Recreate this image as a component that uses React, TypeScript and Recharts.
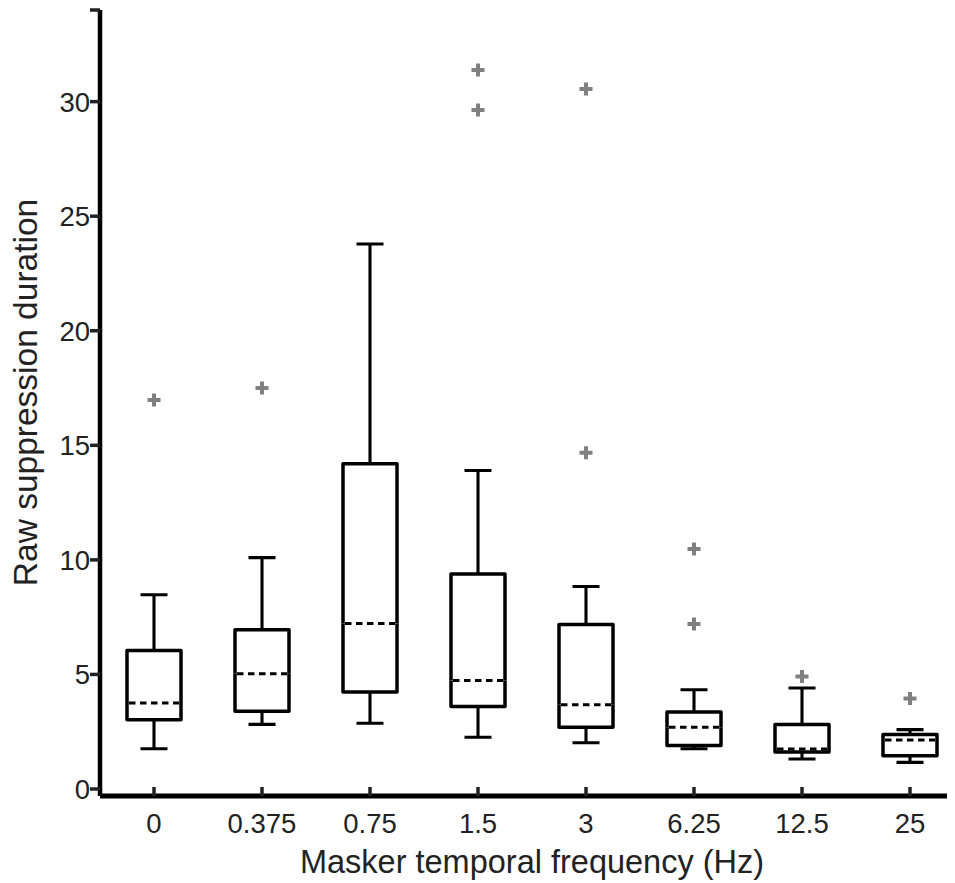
import { ComposedChart, Bar, Line, XAxis, YAxis, Label } from "recharts";

const categories = ["0", "0.375", "0.75", "1.5", "3", "6.25", "12.5", "25"];
const mins = [1.76, 2.82, 2.87, 2.26, 2.02, 1.76, 1.31, 1.16];
const q1s = [3.02, 3.39, 4.23, 3.6, 2.7, 1.9, 1.61, 1.45];
const medians = [3.75, 5.03, 7.22, 4.74, 3.68, 2.7, 1.75, 2.14];
const q3s = [6.05, 6.95, 14.2, 9.38, 7.18, 3.36, 2.81, 2.38];
const maxes = [8.48, 10.1, 23.79, 13.9, 8.84, 4.33, 4.41, 2.59];
const outliersHigh = [16.98, 17.5, null, 31.38, 30.55, 10.47, 4.91, 3.95];
const outliersLow = [null, null, null, 29.64, 14.68, 7.2, null, null];
const yTicks = [0, 5, 10, 15, 20, 25, 30, 34];

const data = categories.map((cat, i) => ({
  cat,
  base: mins[i],
  lowWhisker: q1s[i] - mins[i],
  lowBox: medians[i] - q1s[i],
  highBox: q3s[i] - medians[i],
  highWhisker: maxes[i] - q3s[i],
  outA: outliersHigh[i],
  outB: outliersLow[i],
}));

const FONT = '"Liberation Sans", Arial, Helvetica, sans-serif';
const INK = "#000";

const LowWhisker = (p: any) => {
  const { x, y, width, height } = p;
  const cx = x + width / 2;
  return (
    <path
      d={`M${cx},${y}V${y + height}M${x + width / 4},${y + height}H${x + (3 * width) / 4}`}
      stroke={INK}
      strokeWidth={3.1}
      fill="none"
    />
  );
};

const HighWhisker = (p: any) => {
  const { x, y, width, height } = p;
  const cx = x + width / 2;
  return (
    <path
      d={`M${cx},${y + height}V${y}M${x + width / 4},${y}H${x + (3 * width) / 4}`}
      stroke={INK}
      strokeWidth={3.1}
      fill="none"
    />
  );
};

const LowBox = (p: any) => {
  const { x, y, width, height } = p;
  return (
    <path
      d={`M${x},${y}V${y + height}H${x + width}V${y}`}
      stroke={INK}
      strokeWidth={3.5}
      strokeLinejoin="round"
      fill="none"
    />
  );
};

const HighBox = (p: any) => {
  const { x, y, width, height } = p;
  return (
    <g>
      <path
        d={`M${x},${y + height}V${y}H${x + width}V${y + height}`}
        stroke={INK}
        strokeWidth={3.5}
        strokeLinejoin="round"
        fill="none"
      />
      <line
        x1={x + 2}
        x2={x + width - 2}
        y1={y + height}
        y2={y + height}
        stroke={INK}
        strokeWidth={3}
        strokeDasharray="6.5 4.5"
      />
    </g>
  );
};

const Plus = (p: any) => {
  const { cx, cy, index } = p;
  if (typeof cy !== "number" || isNaN(cy)) return <g key={index} />;
  return (
    <path
      key={index}
      d={`M${cx - 6.5},${cy}H${cx + 6.5}M${cx},${cy - 6.5}V${cy + 6.5}`}
      stroke="#808080"
      strokeWidth={4}
      fill="none"
    />
  );
};

const YTick = (p: any) => {
  const { x, y, payload } = p;
  if (payload.value === 34) return <g />;
  return (
    <text
      x={x}
      y={y + 10}
      textAnchor="end"
      fill="#222"
      fontSize={27.5}
      fontFamily={FONT}
    >
      {payload.value}
    </text>
  );
};

export default function App() {
  return (
    <div style={{ width: 955, marginLeft: -8, overflow: "hidden" }}>
      <ComposedChart
        width={964}
        height={875}
        data={data}
        margin={{ top: 2, right: 0, bottom: 0, left: 0 }}
        barSize={54}
      >
        <XAxis
          dataKey="cat"
          height={87}
          axisLine={{ stroke: INK, strokeWidth: 5 }}
          tickLine={{ stroke: "#222", strokeWidth: 3.5 }}
          tickSize={-9}
          tickMargin={26.5}
          tick={{ fill: "#222", fontSize: 27.5, fontFamily: FONT }}
          interval={0}
        >
          <Label
            content={({ viewBox }: any) => (
              <text
                x={viewBox.x + viewBox.width / 2}
                y={865}
                textAnchor="middle"
                fill="#222"
                fontSize={32.5}
                fontFamily={FONT}
              >
                Masker temporal frequency (Hz)
              </text>
            )}
          />
        </XAxis>
        <YAxis
          width={100}
          domain={[0, 34]}
          ticks={yTicks}
          padding={{ top: 0, bottom: 7 }}
          axisLine={{ stroke: INK, strokeWidth: 4.5 }}
          tickLine={{ stroke: "#222", strokeWidth: 3.5 }}
          tickSize={10}
          tickMargin={0}
          tick={YTick}
          allowDataOverflow
        >
          <Label
            content={() => (
              <text
                x={36.7}
                y={384.5}
                transform="rotate(-90, 36.7, 384.5)"
                textAnchor="middle"
                fill="#222"
                fontSize={33.5}
                fontFamily={FONT}
              >
                Raw suppression duration
              </text>
            )}
          />
        </YAxis>
        <Bar dataKey="base" stackId="box" fill="none" isAnimationActive={false} />
        <Bar dataKey="lowWhisker" stackId="box" shape={LowWhisker} isAnimationActive={false} />
        <Bar dataKey="lowBox" stackId="box" shape={LowBox} isAnimationActive={false} />
        <Bar dataKey="highBox" stackId="box" shape={HighBox} isAnimationActive={false} />
        <Bar dataKey="highWhisker" stackId="box" shape={HighWhisker} isAnimationActive={false} />
        <Line
          dataKey="outA"
          stroke="none"
          dot={Plus}
          activeDot={false}
          isAnimationActive={false}
        />
        <Line
          dataKey="outB"
          stroke="none"
          dot={Plus}
          activeDot={false}
          isAnimationActive={false}
        />
      </ComposedChart>
    </div>
  );
}
